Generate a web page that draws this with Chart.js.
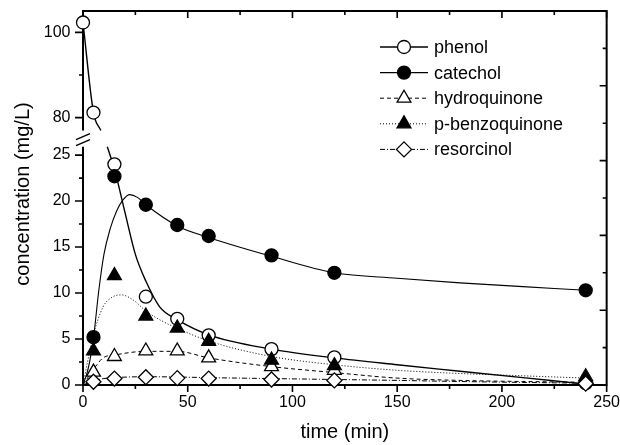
<!DOCTYPE html>
<html>
<head>
<meta charset="utf-8">
<script src="https://cdn.jsdelivr.net/npm/chart.js@4.4.1/dist/chart.umd.min.js"></script>
<style>
  html, body { margin: 0; padding: 0; background: #fff; }
  #wrap { width: 620px; height: 445px; }
</style>
</head>
<body>
<div id="wrap"><canvas id="concChart"></canvas></div>
<script>
// measured concentrations (mg/L) at each sampling time (min)
const times        = [0, 5, 15, 30, 45, 60, 90, 120, 240];
const phenol       = [102.3, 81.2, 24.0, 9.6, 7.2, 5.4, 3.9, 3.0, 0.2];
const catechol     = [null, 5.2, 22.7, 19.6, 17.4, 16.2, 14.1, 12.2, 10.3];
const hydroquinone = [null, 1.4, 3.1, 3.7, 3.7, 2.95, 2.0, 1.6, 0.9];
const benzoquinone = [null, 3.7, 11.9, 7.5, 6.2, 4.75, 2.7, 2.1, 0.7];
const resorcinol   = [null, 0.35, 0.7, 0.85, 0.75, 0.7, 0.6, 0.5, 0.15];

// model curves
const phenolFitHighT = [0, 5, 8.5];
const phenolFitHighC = [102.3, 81.2, 77.0];
const phenolFitLowT  = [11.6, 15, 20, 25, 30, 36.6, 45, 60, 90, 120, 150, 180, 210, 240];
const phenolFitLowC  = [25.9, 23.5, 18.8, 14.2, 11.3, 8.5, 7.1, 5.45, 3.9, 2.95, 2.2, 1.5, 0.8, 0.1];
const catecholFitT   = [0, 2.5, 5, 7.5, 10, 13, 16, 19, 22.3, 26, 30, 45, 60, 90, 120, 150, 180, 210, 240];
const catecholFitC   = [0, 1.8, 5.1, 10.2, 14.2, 17.0, 18.9, 20.1, 20.7, 20.4, 19.6, 17.3, 16.05, 14.0, 12.2, 11.6, 11.1, 10.7, 10.3];
const hydroFitT      = [0, 5, 9.6, 16, 30, 45, 60, 90, 120, 150, 180, 210, 240];
const hydroFitC      = [0, 1.7, 2.95, 3.3, 3.66, 3.66, 2.95, 2.0, 1.35, 0.75, 0.5, 0.38, 0.3];
const benzoFitT      = [0, 4.8, 9.6, 14.3, 18.3, 23.9, 30.3, 36.6, 44.6, 60.5, 90, 120, 150, 180, 210, 240];
const benzoFitC      = [0, 5.3, 8.5, 9.6, 9.8, 9.25, 8.0, 7.1, 6.2, 4.75, 3.1, 2.2, 1.6, 1.25, 1.0, 0.75];
const resorFitT      = [0, 5, 10, 15, 30, 45, 60, 90, 120, 150, 180, 210, 240];
const resorFitC      = [0, 0.45, 0.7, 0.8, 0.9, 0.87, 0.8, 0.7, 0.6, 0.5, 0.38, 0.28, 0.2];

// axis ticks (labelled ones; minor ticks go halfway between)
const xTicks     = [0, 50, 100, 150, 200, 250];
const yLowTicks  = [0, 5, 10, 15, 20, 25];
const yHighTicks = [80, 100];

const seriesNames = ['phenol', 'catechol', 'hydroquinone', 'p-benzoquinone', 'resorcinol'];

// axis break: lower panel 0-26.75, upper panel 75-105, gap drawn between these values
const breakLow = 25.9;
const breakHigh = 77;

const FONT = "'Liberation Sans', Arial, Helvetica, sans-serif";
Chart.defaults.font.family = FONT;
Chart.defaults.color = '#000';

function pts(ts, cs) {
    return ts.map(function(t, i) { return {x: t, y: cs[i]}; })
             .filter(function(p) { return p.y !== null; });
}

const styles = [
    {pointStyle: 'circle',   radius: 6.5, fill: '#fff', dash: [],           width: 1.4},
    {pointStyle: 'circle',   radius: 6.5, fill: '#000', dash: [],           width: 1.1},
    {pointStyle: 'triangle', radius: 8,   fill: '#fff', dash: [4, 3],       width: 1},
    {pointStyle: 'triangle', radius: 8,   fill: '#000', dash: [1, 2],       width: 1},
    {pointStyle: 'rectRot',  radius: 7.5, fill: '#fff', dash: [5, 2, 1, 2], width: 1}
];

function curve(data, axis, st) {
    return {
        data: data, yAxisID: axis, showLine: true,
        borderColor: '#000', borderWidth: st.width, borderDash: st.dash,
        pointRadius: 0, cubicInterpolationMode: 'monotone', order: 10, clip: false
    };
}

function markers(data, axis, st, order) {
    return {
        data: data, yAxisID: axis, showLine: false,
        pointStyle: st.pointStyle, pointRadius: st.radius,
        pointBackgroundColor: st.fill, pointBorderColor: '#000', pointBorderWidth: 1.3,
        order: order, clip: false
    };
}

const phenolPts = pts(times, phenol);
const phenolHigh = phenolPts.filter(function(p) { return p.y > breakHigh; });
const phenolLow = phenolPts.filter(function(p) { return p.y < breakLow; });

const datasets = [
    curve(pts(phenolFitHighT, phenolFitHighC), 'yHigh', styles[0]),
    curve(pts(phenolFitLowT, phenolFitLowC), 'yLow', styles[0]),
    curve(pts(catecholFitT, catecholFitC), 'yLow', styles[1]),
    curve(pts(hydroFitT, hydroFitC), 'yLow', styles[2]),
    curve(pts(benzoFitT, benzoFitC), 'yLow', styles[3]),
    curve(pts(resorFitT, resorFitC), 'yLow', styles[4]),
    markers(phenolHigh, 'yHigh', styles[0], 5),
    markers(phenolLow, 'yLow', styles[0], 5),
    markers(pts(times, catechol), 'yLow', styles[1], 4),
    markers(pts(times, hydroquinone), 'yLow', styles[2], 3),
    markers(pts(times, benzoquinone), 'yLow', styles[3], 2),
    markers(pts(times, resorcinol), 'yLow', styles[4], 1)
];

function setTicks(list) {
    return function(scale) {
        scale.ticks = list.map(function(v) { return {value: v}; });
    };
}

// minor ticks sit halfway between labelled ones
function withMinors(list) {
    const out = [];
    list.forEach(function(v, i) {
        out.push({v: v, major: true});
        if (i < list.length - 1) out.push({v: (v + list[i + 1]) / 2, major: false});
    });
    return out;
}

const framePlugin = {
    id: 'frame',
    beforeDatasetsDraw: function(chart) {
        const ctx = chart.ctx;
        const a = chart.chartArea;
        const s = chart.scales;
        const gapTop = s.yHigh.getPixelForValue(breakHigh);
        const gapBottom = s.yLow.getPixelForValue(breakLow);

        ctx.save();
        ctx.strokeStyle = '#000';
        ctx.lineWidth = 2;
        ctx.beginPath();
        ctx.moveTo(a.left, gapTop);
        ctx.lineTo(a.left, a.top);
        ctx.lineTo(a.right, a.top);
        ctx.lineTo(a.right, a.bottom);
        ctx.lineTo(a.left, a.bottom);
        ctx.lineTo(a.left, gapBottom);
        ctx.stroke();

        ctx.lineWidth = 1.6;
        ctx.beginPath();
        withMinors(xTicks).forEach(function(t) {
            const px = s.x.getPixelForValue(t.v);
            const len = t.major ? 7 : 4;
            ctx.moveTo(px, a.bottom); ctx.lineTo(px, a.bottom + len);
            ctx.moveTo(px, a.top); ctx.lineTo(px, a.top + len);
        });
        withMinors(yLowTicks).forEach(function(t) {
            const py = s.yLow.getPixelForValue(t.v);
            ctx.moveTo(a.left - (t.major ? 8 : 4), py); ctx.lineTo(a.left, py);
        });
        withMinors(yHighTicks).forEach(function(t) {
            const py = s.yHigh.getPixelForValue(t.v);
            ctx.moveTo(a.left - (t.major ? 8 : 4), py); ctx.lineTo(a.left, py);
        });
        for (let i = 1; i < 10; i++) {
            const py = a.bottom - i * (a.bottom - a.top) / 10;
            ctx.moveTo(a.right - (i % 2 === 0 ? 7 : 4), py); ctx.lineTo(a.right, py);
        }
        ctx.stroke();

        // break marks
        const gc = (gapTop + gapBottom) / 2;
        ctx.lineWidth = 1.5;
        ctx.beginPath();
        ctx.moveTo(a.left - 7, gc + 1); ctx.lineTo(a.left + 7, gc - 5);
        ctx.moveTo(a.left - 7, gc + 7); ctx.lineTo(a.left + 7, gc + 1);
        ctx.stroke();
        ctx.restore();
    }
};

const legendPlugin = {
    id: 'markerLegend',
    afterDatasetsDraw: function(chart) {
        const ctx = chart.ctx;
        const a = chart.chartArea;
        const x0 = a.left + 297;
        const y0 = a.top + 36;
        ctx.save();
        seriesNames.forEach(function(name, i) {
            const st = styles[i];
            const y = y0 + i * 25.6;
            ctx.strokeStyle = '#000';
            ctx.lineWidth = st.width;
            ctx.setLineDash(st.dash);
            ctx.beginPath();
            ctx.moveTo(x0, y); ctx.lineTo(x0 + 48, y);
            ctx.stroke();
            ctx.setLineDash([]);
            ctx.fillStyle = st.fill;
            ctx.lineWidth = 1.3;
            Chart.helpers.drawPoint(ctx, {pointStyle: st.pointStyle, radius: st.radius, rotation: 0, borderWidth: 1.3}, x0 + 24, y);
            ctx.fillStyle = '#000';
            ctx.font = '18px ' + FONT;
            ctx.textAlign = 'left';
            ctx.textBaseline = 'middle';
            ctx.fillText(name, x0 + 54, y + 1);
        });
        ctx.restore();
    }
};

const yTitlePlugin = {
    id: 'yTitle',
    afterDraw: function(chart) {
        const ctx = chart.ctx;
        const a = chart.chartArea;
        ctx.save();
        ctx.translate(23, (a.top + a.bottom) / 2 - 4);
        ctx.rotate(-Math.PI / 2);
        ctx.font = '20px ' + FONT;
        ctx.fillStyle = '#000';
        ctx.textAlign = 'center';
        ctx.textBaseline = 'middle';
        ctx.fillText('concentration (mg/L)', 0, 0);
        ctx.restore();
    }
};

// tick marks are drawn by the frame plugin; tickLength only offsets the labels
const yCommon = {
    type: 'linear', position: 'left', stack: 'conc',
    grid: {display: false, drawTicks: true, tickLength: 12}, border: {display: false},
    ticks: {padding: 0.5, font: {size: 16}, color: '#000',
            callback: function(v) { return String(v); }},
    afterFit: function(scale) { scale.width = 83; }
};

const chart = new Chart(document.getElementById('concChart'), {
    type: 'scatter',
    data: {datasets: datasets},
    options: {
        responsive: true,
        maintainAspectRatio: false,
        animation: false,
        events: [],
        layout: {padding: {top: 11, right: 13, left: 0, bottom: 0}},
        plugins: {legend: {display: false}, tooltip: {enabled: false}},
        scales: {
            x: {
                type: 'linear', position: 'bottom', min: 0, max: 250,
                afterBuildTicks: setTicks(xTicks),
                afterFit: function(scale) { scale.height = 60; },
                grid: {display: false, drawTicks: true, tickLength: 8}, border: {display: false},
                ticks: {padding: 0, font: {size: 16}, color: '#000', autoSkip: false, maxRotation: 0,
                        callback: function(v) { return String(v); }},
                title: {display: true, text: 'time (min)', font: {size: 20}, color: '#000',
                        padding: {top: 0, bottom: 1}}
            },
            yLow: Object.assign({}, yCommon, {
                min: 0, max: 26.75, stackWeight: 246,
                afterBuildTicks: setTicks(yLowTicks)
            }),
            yHigh: Object.assign({}, yCommon, {
                min: 75, max: 105, stackWeight: 128,
                afterBuildTicks: setTicks(yHighTicks)
            })
        }
    },
    plugins: [framePlugin, legendPlugin, yTitlePlugin]
});
</script>
</body>
</html>
